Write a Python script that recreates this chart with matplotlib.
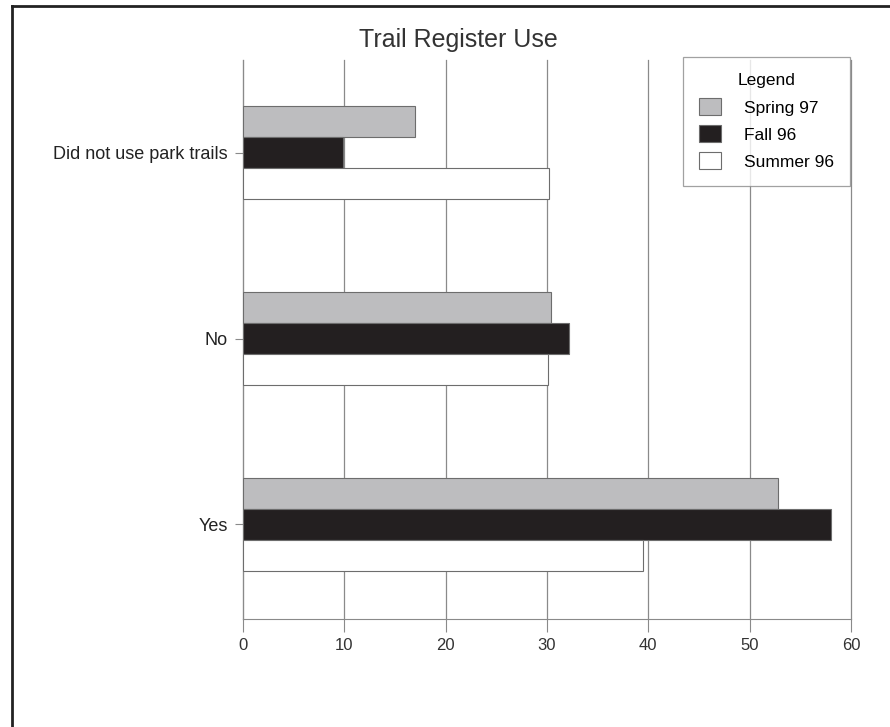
import matplotlib
matplotlib.use("Agg")
import matplotlib.pyplot as plt
from matplotlib.lines import Line2D
import numpy as np

plt.rcParams['font.family'] = ['Liberation Sans', 'DejaVu Sans']

categories = ["Yes", "No", "Did not use park trails"]
series_names = ["Spring 97", "Fall 96", "Summer 96"]
spring97 = [52.8, 30.4, 17.0]
fall96 = [58.0, 32.2, 9.9]
summer96 = [39.5, 30.1, 30.2]
xticks = [0, 10, 20, 30, 40, 50, 60]

colors = ["#bdbdbf", "#231f20", "#ffffff"]
values = [spring97, fall96, summer96]

W, H = 890, 727
fig = plt.figure(figsize=(W / 100, H / 100), dpi=100)
ax = fig.add_axes([243 / W, 1 - 619 / H, (851 - 243) / W, (619 - 60) / H])

y = np.arange(len(categories))
h = 0.167
offsets = [h, 0, -h]
for vals, off, col, name in zip(values, offsets, colors, series_names):
    ax.barh(y + off, vals, height=h, color=col, edgecolor="#6d6d6d",
            linewidth=0.8, label=name, zorder=3)

ax.set_xlim(0, 60)
ax.set_ylim(-0.51, 2.5)
ax.set_xticks(xticks)
ax.set_xticklabels([str(t) for t in xticks], fontsize=12, color="#333333")
ax.set_yticks(y)
ax.set_yticklabels(categories, fontsize=13, color="#222222")
ax.xaxis.grid(True, color="#8a8a8a", linewidth=0.9, zorder=0)
for gl in ax.get_xgridlines():
    gl.set_clip_on(False)
ax.set_axisbelow(True)
for s in ["top", "right"]:
    ax.spines[s].set_visible(False)
ax.spines["left"].set_color("#8a8a8a")
ax.spines["bottom"].set_color("#8a8a8a")
ax.tick_params(axis="x", length=9, color="#8a8a8a", pad=5)
ax.tick_params(axis="y", length=6, color="#8a8a8a", pad=5)

fig.text(458 / W, 1 - 40 / H, "Trail Register Use", ha="center", va="center",
         fontsize=18, color="#333333")

leg = ax.legend(loc="upper right", bbox_to_anchor=(850 / W, 1 - 57 / H),
                bbox_transform=fig.transFigure, title="Legend", fontsize=12.5,
                title_fontsize=12.5, frameon=True, fancybox=False,
                handlelength=1.25, handleheight=1.15, borderpad=0.95,
                labelspacing=0.55, borderaxespad=0, handletextpad=1.3)
leg.get_frame().set_edgecolor("#8a8a8a")
leg.get_frame().set_linewidth(0.9)
leg.set_zorder(5)

fig.add_artist(Line2D([12 / W, 12 / W], [0, 1 - 6 / H], transform=fig.transFigure,
                      color="#222222", linewidth=2))
fig.add_artist(Line2D([12 / W, 1], [1 - 6 / H, 1 - 6 / H], transform=fig.transFigure,
                      color="#222222", linewidth=2))

fig.savefig("out.png", dpi=100)
